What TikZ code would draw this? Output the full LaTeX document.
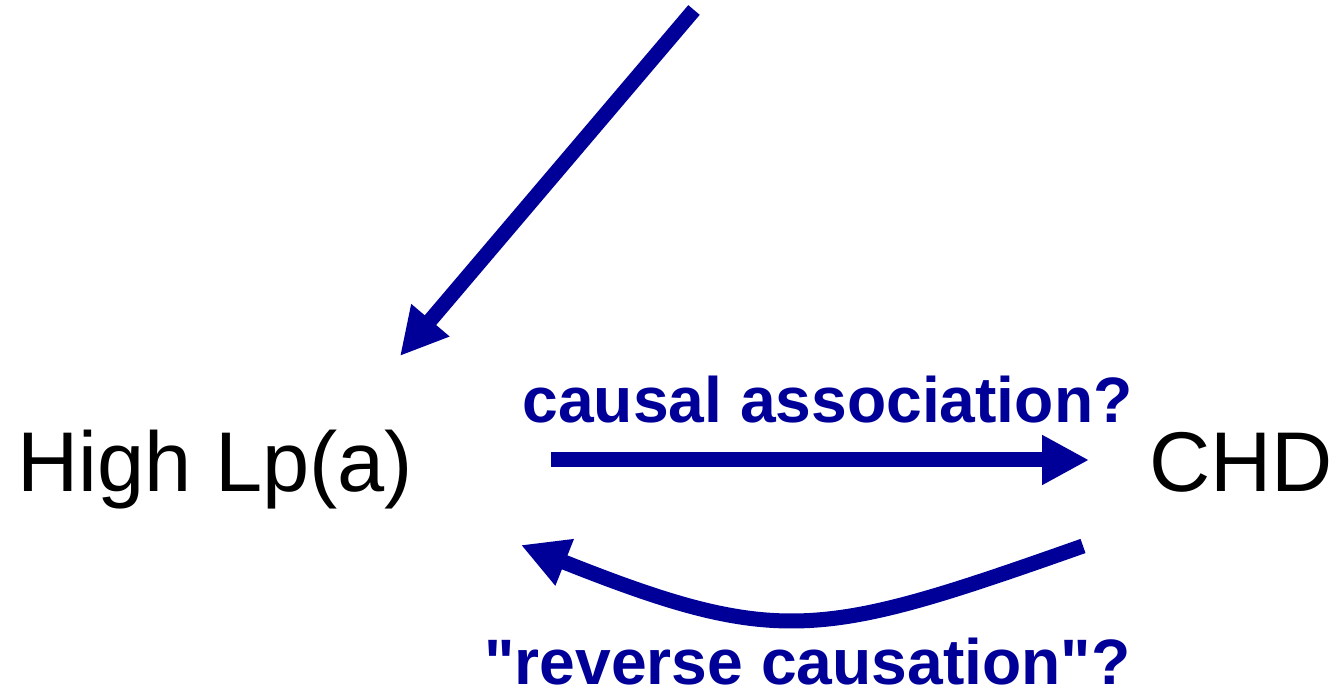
\documentclass[tikz,border=0pt]{standalone}
\usepackage{fontspec}
\setmainfont{Liberation Sans}[Ligatures=TeXOff]
\usetikzlibrary{arrows.meta}
\definecolor{navy}{HTML}{000099}
\tikzset{
  bigarrow/.style={draw=navy, line width=7.5pt, -{Triangle[length=23.5pt,width=23.5pt]}, fill=none},
  plainlabel/.style={inner sep=0pt, anchor=base west, text=black, font=\fontsize{42.4pt}{48pt}\selectfont},
  bluelabel/.style={inner sep=0pt, anchor=base west, text=navy, font=\fontsize{32.1pt}{36pt}\selectfont\bfseries},
}
\begin{document}
\begin{tikzpicture}[x=0.5pt,y=-0.5pt]
\useasboundingbox (0,0) rectangle (1338,694);
\node[plainlabel] (lpa) at (17,492) {High Lp(a)};
\node[plainlabel] (chd) at (1149,492) {CHD};
\node[bluelabel] (causal) at (522,423) {causal association?};
\node[bluelabel] (reverse) at (484,684) {"reverse causation"?};
\coordinate (top) at (694,10);
\coordinate (diagtip) at (400,356);
\coordinate (fwdstart) at (551,460);
\coordinate (fwdtip) at (1089,460);
\coordinate (revstart) at (1083,546);
\coordinate (revtip) at (521,545);
\draw[bigarrow] (top) -- (diagtip);
\draw[bigarrow] (fwdstart) -- (fwdtip);
\draw[bigarrow] (revstart) .. controls (822,638) and (780,648) .. (revtip);
\end{tikzpicture}
\end{document}
